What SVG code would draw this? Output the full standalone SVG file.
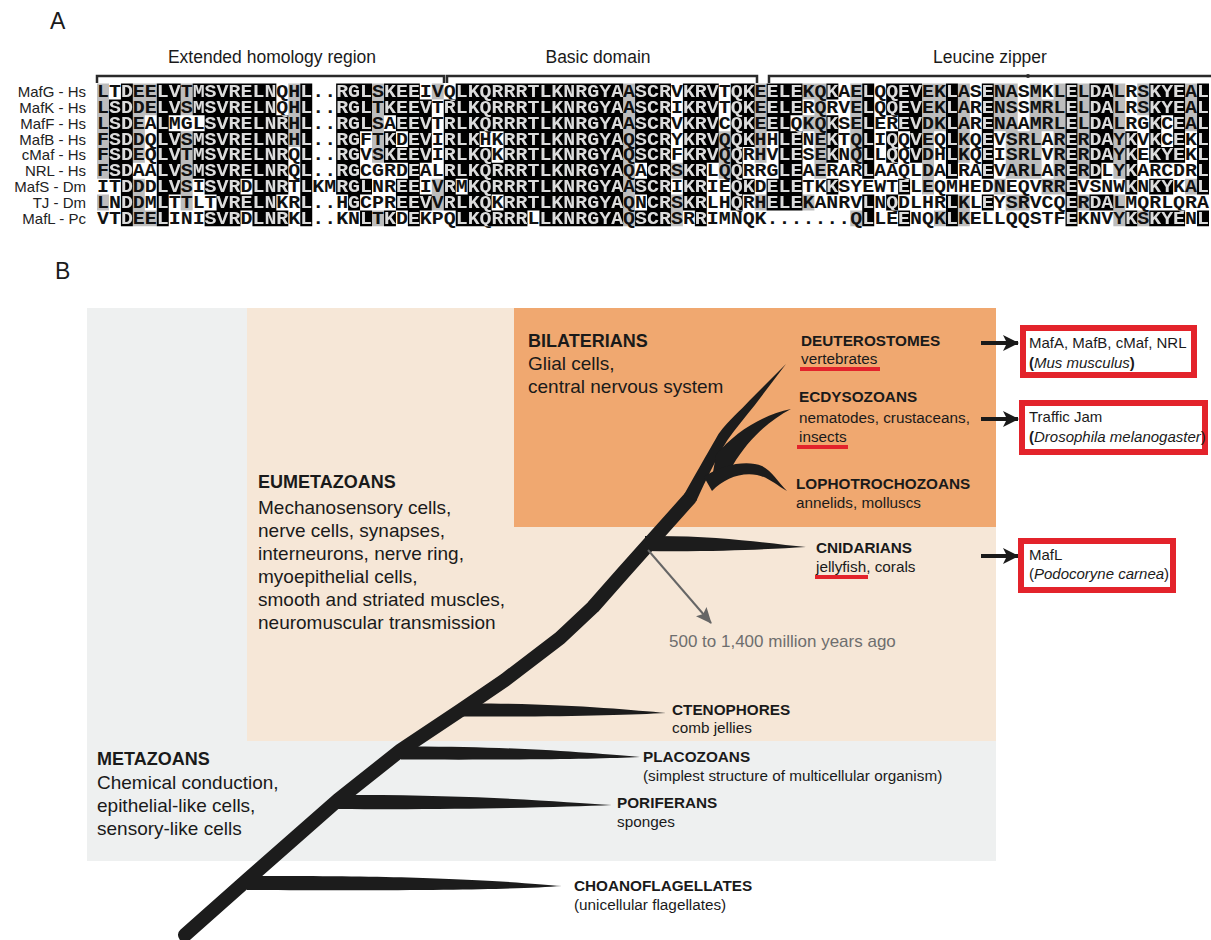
<svg xmlns="http://www.w3.org/2000/svg" width="1211" height="940" viewBox="0 0 1211 940">
<style>
text{font-family:"Liberation Sans",Arial,sans-serif;fill:#1a1a1a}
.s{font-family:"Liberation Mono","Courier New",monospace;font-size:18px;font-weight:bold;fill:inherit}
.rl{font-size:15px;text-anchor:end;fill:#222}
.hdr{font-size:17.5px;text-anchor:middle}
.pl{font-size:23px}
.big{font-size:18px;font-weight:bold}
.desc{font-size:19px}
.clade{font-size:15.3px;font-weight:bold}
.sub{font-size:15.3px}
.bx{font-size:15px}
.box{fill:#fff;stroke:#e3232b;stroke-width:6}
.ul{stroke:#e3232b;stroke-width:4}
.tree{fill:#1c1c1c}
.trunk{fill:none;stroke:#1c1c1c;stroke-width:14;stroke-linecap:round;stroke-linejoin:round}
.brk{fill:none;stroke:#2a2a2a;stroke-width:2.5}
.con{stroke:#1a1a1a;stroke-width:4;fill:none}
</style>
<defs>
<marker id="ba" viewBox="0 0 16 16" refX="15" refY="8" markerWidth="16" markerHeight="16" markerUnits="userSpaceOnUse" orient="auto"><path d="M0,0 L16,8 L0,16 L4,8 Z" fill="#1a1a1a"/></marker>
<marker id="ga" viewBox="0 0 16 14" refX="15" refY="7" markerWidth="16" markerHeight="14" markerUnits="userSpaceOnUse" orient="auto"><path d="M0,0 L16,7 L0,14 L3,7 Z" fill="#666"/></marker>
<path id="blk" transform="translate(97,83.6) scale(11.957,15.85)" d="M2 0h1v1h-1z M5 0h2v1h-2z M8 0h7v1h-7z M17 0h1v1h-1z M20 0h3v1h-3z M24 0h3v1h-3z M30 0h14v1h-14z M45 0h3v1h-3z M49 0h3v1h-3z M53 0h2v1h-2z M56 0h3v1h-3z M61 0h1v1h-1z M64 0h1v1h-1z M66 0h3v1h-3z M71 0h1v1h-1z M74 0h1v1h-1z M81 0h1v1h-1z M83 0h2v1h-2z M88 0h3v1h-3z M92 0h1v1h-1z
M1 1h2v1h-2z M5 1h2v1h-2z M8 1h7v1h-7z M17 1h1v1h-1z M20 1h3v1h-3z M24 1h4v1h-4z M29 1h15v1h-15z M45 1h3v1h-3z M49 1h3v1h-3z M53 1h2v1h-2z M56 1h3v1h-3z M64 1h1v1h-1z M66 1h3v1h-3z M71 1h1v1h-1z M74 1h1v1h-1z M81 1h1v1h-1z M83 1h2v1h-2z M88 1h3v1h-3z M92 1h1v1h-1z
M1 2h2v1h-2z M5 2h1v1h-1z M9 2h7v1h-7z M17 2h1v1h-1z M20 2h3v1h-3z M25 2h3v1h-3z M29 2h15v1h-15z M45 2h3v1h-3z M49 2h3v1h-3z M53 2h2v1h-2z M56 2h2v1h-2z M61 2h1v1h-1z M64 2h1v1h-1z M67 2h2v1h-2z M71 2h1v1h-1z M74 2h1v1h-1z M81 2h1v1h-1z M83 2h2v1h-2z M88 2h1v1h-1z M90 2h1v1h-1z M92 2h1v1h-1z
M1 3h2v1h-2z M5 3h2v1h-2z M8 3h8v1h-8z M17 3h1v1h-1z M20 3h2v1h-2z M24 3h1v1h-1z M26 3h2v1h-2z M29 3h3v1h-3z M34 3h10v1h-10z M45 3h3v1h-3z M49 3h3v1h-3z M53 3h2v1h-2z M57 3h2v1h-2z M61 3h1v1h-1z M64 3h1v1h-1z M66 3h1v1h-1z M68 3h1v1h-1z M71 3h1v1h-1z M74 3h1v1h-1z M81 3h1v1h-1z M83 3h2v1h-2z M86 3h1v1h-1z M88 3h1v1h-1z M90 3h1v1h-1z M92 3h1v1h-1z
M1 4h2v1h-2z M5 4h2v1h-2z M8 4h8v1h-8z M17 4h1v1h-1z M20 4h2v1h-2z M24 4h4v1h-4z M29 4h4v1h-4z M34 4h10v1h-10z M45 4h3v1h-3z M49 4h3v1h-3z M53 4h1v1h-1z M57 4h2v1h-2z M61 4h1v1h-1z M64 4h1v1h-1z M66 4h1v1h-1z M68 4h1v1h-1z M71 4h1v1h-1z M74 4h1v1h-1z M81 4h1v1h-1z M83 4h2v1h-2z M86 4h1v1h-1z M88 4h3v1h-3z M92 4h1v1h-1z
M1 5h2v1h-2z M5 5h2v1h-2z M8 5h8v1h-8z M17 5h1v1h-1z M20 5h2v1h-2z M26 5h1v1h-1z M29 5h15v1h-15z M46 5h2v1h-2z M49 5h2v1h-2z M53 5h1v1h-1z M57 5h2v1h-2z M64 5h1v1h-1z M71 5h1v1h-1z M74 5h1v1h-1z M81 5h1v1h-1z M83 5h1v1h-1z M86 5h1v1h-1z M92 5h1v1h-1z
M2 6h1v1h-1z M5 6h2v1h-2z M9 6h3v1h-3z M13 6h3v1h-3z M17 6h1v1h-1z M20 6h3v1h-3z M25 6h2v1h-2z M29 6h1v1h-1z M31 6h13v1h-13z M45 6h3v1h-3z M49 6h2v1h-2z M53 6h2v1h-2z M56 6h3v1h-3z M61 6h1v1h-1z M67 6h1v1h-1z M81 6h1v1h-1z M86 6h1v1h-1z M88 6h2v1h-2z M92 6h1v1h-1z
M2 7h1v1h-1z M5 7h1v1h-1z M10 7h5v1h-5z M17 7h1v1h-1z M21 7h1v1h-1z M25 7h3v1h-3z M29 7h4v1h-4z M34 7h10v1h-10z M46 7h2v1h-2z M49 7h2v1h-2z M53 7h1v1h-1z M56 7h3v1h-3z M64 7h1v1h-1z M66 7h1v1h-1z M71 7h1v1h-1z M74 7h1v1h-1z M81 7h1v1h-1z M83 7h2v1h-2z
M2 8h1v1h-1z M5 8h1v1h-1z M9 8h3v1h-3z M13 8h3v1h-3z M17 8h1v1h-1z M22 8h1v1h-1z M24 8h1v1h-1z M26 8h1v1h-1z M30 8h6v1h-6z M37 8h7v1h-7z M45 8h3v1h-3z M50 8h1v1h-1z M64 8h1v1h-1z M67 8h1v1h-1z M71 8h1v1h-1z M81 8h1v1h-1z M86 8h1v1h-1z M88 8h3v1h-3z M92 8h1v1h-1z"/>
<path id="gry" transform="translate(97,83.6) scale(11.957,15.85)" d="M0 0h1v1h-1z M3 0h2v1h-2z M7 0h1v1h-1z M16 0h1v1h-1z M23 0h1v1h-1z M28 0h1v1h-1z M44 0h1v1h-1z M55 0h1v1h-1z M59 0h2v1h-2z M63 0h1v1h-1z M69 0h2v1h-2z M72 0h1v1h-1z M75 0h2v1h-2z M78 0h1v1h-1z M80 0h1v1h-1z M82 0h1v1h-1z M85 0h1v1h-1z M87 0h1v1h-1z M91 0h1v1h-1z
M0 1h1v1h-1z M3 1h2v1h-2z M7 1h1v1h-1z M16 1h1v1h-1z M23 1h1v1h-1z M44 1h1v1h-1z M55 1h1v1h-1z M60 1h1v1h-1z M63 1h1v1h-1z M69 1h2v1h-2z M72 1h1v1h-1z M75 1h2v1h-2z M78 1h3v1h-3z M82 1h1v1h-1z M85 1h1v1h-1z M87 1h1v1h-1z M91 1h1v1h-1z
M0 2h1v1h-1z M3 2h1v1h-1z M16 2h1v1h-1z M23 2h1v1h-1z M44 2h1v1h-1z M55 2h1v1h-1z M59 2h2v1h-2z M63 2h1v1h-1z M69 2h2v1h-2z M72 2h1v1h-1z M75 2h2v1h-2z M78 2h3v1h-3z M82 2h1v1h-1z M85 2h1v1h-1z M91 2h1v1h-1z
M0 3h1v1h-1z M3 3h1v1h-1z M7 3h1v1h-1z M16 3h1v1h-1z M23 3h1v1h-1z M44 3h1v1h-1z M52 3h1v1h-1z M55 3h1v1h-1z M60 3h1v1h-1z M63 3h1v1h-1z M69 3h1v1h-1z M72 3h1v1h-1z M76 3h3v1h-3z M80 3h1v1h-1z M82 3h1v1h-1z M85 3h1v1h-1z
M0 4h1v1h-1z M3 4h1v1h-1z M7 4h1v1h-1z M23 4h1v1h-1z M44 4h1v1h-1z M52 4h1v1h-1z M55 4h1v1h-1z M60 4h1v1h-1z M63 4h1v1h-1z M69 4h1v1h-1z M72 4h1v1h-1z M76 4h3v1h-3z M80 4h1v1h-1z M82 4h1v1h-1z M85 4h1v1h-1z
M0 5h1v1h-1z M7 5h1v1h-1z M44 5h1v1h-1z M48 5h1v1h-1z M52 5h1v1h-1z M60 5h1v1h-1z M69 5h1v1h-1z M76 5h3v1h-3z M80 5h1v1h-1z M82 5h1v1h-1z M85 5h1v1h-1z
M3 6h1v1h-1z M7 6h1v1h-1z M28 6h1v1h-1z M44 6h1v1h-1z M69 6h1v1h-1z M75 6h1v1h-1z M79 6h2v1h-2z M91 6h1v1h-1z
M0 7h1v1h-1z M3 7h1v1h-1z M7 7h1v1h-1z M28 7h1v1h-1z M44 7h1v1h-1z M48 7h1v1h-1z M55 7h1v1h-1z M59 7h1v1h-1z M72 7h1v1h-1z M76 7h2v1h-2z M82 7h1v1h-1z M85 7h1v1h-1z
M3 8h2v1h-2z M23 8h1v1h-1z M44 8h1v1h-1z M48 8h1v1h-1z M63 8h1v1h-1z M70 8h1v1h-1z M72 8h1v1h-1z M85 8h1v1h-1z M87 8h1v1h-1z"/>
<g id="seqtxt">
<text class="s" x="97" y="97" textLength="1112" lengthAdjust="spacingAndGlyphs">LTDEELVTMSVRELNQHL..RGLSKEEIVQLKQRRRTLKNRGYAASCRVKRVTQKEELEKQKAELQQEVEKLASENASMKLELDALRSKYEAL</text>
<text class="s" x="97" y="112.85" textLength="1112" lengthAdjust="spacingAndGlyphs">LSDDELVSMSVRELNQHL..RGLTKEEVTRLKQRRRTLKNRGYAASCRIKRVTQKEELERQRVELQQEVEKLARENSSMRLELDALRSKYEAL</text>
<text class="s" x="97" y="128.7" textLength="1112" lengthAdjust="spacingAndGlyphs">LSDEALMGLSVRELNRHL..RGLSAEEVTRLKQRRRTLKNRGYAASCRVKRVCQKEELQKQKSELEREVDKLARENAAMRLELDALRGKCEAL</text>
<text class="s" x="97" y="144.55" textLength="1112" lengthAdjust="spacingAndGlyphs">FSDDQLVSMSVRELNRHL..RGFTKDEVIRLKHKRRTLKNRGYAQSCRYKRVQQKHHLENEKTQLIQQVEQLKQEVSRLARERDAYKVKCEKL</text>
<text class="s" x="97" y="160.4" textLength="1112" lengthAdjust="spacingAndGlyphs">FSDEQLVTMSVRELNRQL..RGVSKEEVIRLKQKRRTLKNRGYAQSCRFKRVQQRHVLESEKNQLLQQVDHLKQEISRLVRERDAYKEKYEKL</text>
<text class="s" x="97" y="176.25" textLength="1112" lengthAdjust="spacingAndGlyphs">FSDAALVSMSVRELNRQL..RGCGRDEALRLKQRRRTLKNRGYAQACRSKRLQQRRGLEAERARLAAQLDALRAEVARLARERDLYKARCDRL</text>
<text class="s" x="97" y="192.1" textLength="1112" lengthAdjust="spacingAndGlyphs">ITDDDLVSISVRDLNRTLKMRGLNREEIVRMKQRRRTLKNRGYAASCRIKRIEQKDELETKKSYEWTELEQMHEDNEQVRREVSNWKNKYKAL</text>
<text class="s" x="97" y="207.95" textLength="1112" lengthAdjust="spacingAndGlyphs">LNDDMLTTLTVRELNKRL..HGCPREEVVRLKQKRRTLKNRGYAQNCRSKRLHQRHELEKANRVLNQDLHRLKLEYSRVCQERDALMQRLQRA</text>
<text class="s" x="97" y="223.8" textLength="1112" lengthAdjust="spacingAndGlyphs">VTDEELINISVRDLNRKL..KNLTKDEKPQLKQRRRLLKNRGYAQSCRSRRIMNQK.......QLLEENQKLKELLQQSTFEKNVYKSKYENL</text>
</g>
<mask id="mblk" maskUnits="userSpaceOnUse" x="0" y="0" width="1211" height="940"><use href="#blk" fill="#fff"/></mask>
</defs>
<rect width="1211" height="940" fill="#fff"/>

<g id="panelA">
<text class="pl" x="50" y="29">A</text>
<g id="headers">
<text class="hdr" x="272" y="63">Extended homology region</text>
<text class="hdr" x="598" y="63">Basic domain</text>
<text class="hdr" x="990" y="63">Leucine zipper</text>
<path class="brk" d="M97,83 V76 H444 V83 M447,83 V76 H757 V83 M769,83 V76 H1211"/>
<circle cx="1028" cy="76" r="2" fill="#2a2a2a"/>
</g>
<g id="rowlabels">
<text class="rl" x="86" y="97">MafG - Hs</text>
<text class="rl" x="86" y="112.85">MafK - Hs</text>
<text class="rl" x="86" y="128.7">MafF - Hs</text>
<text class="rl" x="86" y="144.55">MafB - Hs</text>
<text class="rl" x="86" y="160.4">cMaf - Hs</text>
<text class="rl" x="86" y="176.25">NRL - Hs</text>
<text class="rl" x="86" y="192.1">MafS - Dm</text>
<text class="rl" x="86" y="207.95">TJ - Dm</text>
<text class="rl" x="86" y="223.8">MafL - Pc</text>
</g>
<g id="alignment">
<use href="#gry" fill="#bdbdbd"/>
<use href="#blk" fill="#000"/>
<use href="#seqtxt" fill="#111"/>
<use href="#seqtxt" fill="#dcdcdc" mask="url(#mblk)"/>
</g>
</g>

<g id="panelB">
<text class="pl" x="55" y="279">B</text>
<g id="backgrounds">
<rect x="87" y="308" width="909" height="553" fill="#eef0f0"/>
<rect x="247" y="308" width="749" height="433" fill="#f6e7d7"/>
<rect x="514" y="308" width="482" height="219" fill="#f0a870"/>
</g>

<g id="tree">
<polyline class="trunk" points="185,935 247,880 338,800 401,750 461,710 505,680 560,638 593,607 623,573 648,545 690,498"/>
<path class="tree" d="M683.9,494.7 C700,466 711,447 718.5,433.9 C730,419 740,411 749.3,400.8 L786,364 L754.7,405.2 C746,416 736,428 727.5,440.1 C717,457 706,480 696.2,501.3 Z"/>
<path class="tree" d="M716,455 C735,432 762,415 791,409 C768,421 748,440 733,465 L712,478 Z"/>
<path class="tree" d="M704,477 C722,464 748,460 762,466 C772,471 778,482 787,491 C776,485 768,477 757,475 C740,472 724,479 712,491 Z"/>
<path class="tree" d="M247,876 C450,875 520,883 562,886 C520,889 450,891 247,890 Z"/>
<path class="tree" d="M338,795 C470,794 560,802 612,805 C560,807 470,810 338,809 Z"/>
<path class="tree" d="M401,746.5 C520,746 600,754 640,757 C600,759 520,760 401,759.5 Z"/>
<path class="tree" d="M461,703.5 C560,703 630,710 666,713 C630,715 560,717 461,716.5 Z"/>
<path class="tree" d="M645,536 C720,535 770,544 806,547 C770,549 720,552 645,551 Z"/>
</g>

<g id="connectors">
<line x1="648" y1="550" x2="711" y2="623" stroke="#666" stroke-width="2" marker-end="url(#ga)"/>
<line class="con" x1="981" y1="343" x2="1018" y2="343" marker-end="url(#ba)"/>
<line class="con" x1="981" y1="419" x2="1018" y2="419" marker-end="url(#ba)"/>
<line class="con" x1="981" y1="556" x2="1018" y2="556" marker-end="url(#ba)"/>
</g>

<g id="bilaterians">
<text class="big" x="528" y="347">BILATERIANS</text>
<text class="desc" x="528" y="370">Glial cells,</text>
<text class="desc" x="528" y="393">central nervous system</text>
</g>
<g id="eumetazoans">
<text class="big" x="258" y="488">EUMETAZOANS</text>
<text class="desc" x="258" y="514">Mechanosensory cells,</text>
<text class="desc" x="258" y="537">nerve cells, synapses,</text>
<text class="desc" x="258" y="560">interneurons, nerve ring,</text>
<text class="desc" x="258" y="583">myoepithelial cells,</text>
<text class="desc" x="258" y="606">smooth and striated muscles,</text>
<text class="desc" x="258" y="629">neuromuscular transmission</text>
</g>
<g id="metazoans">
<text class="big" x="97" y="765">METAZOANS</text>
<text class="desc" x="97" y="789">Chemical conduction,</text>
<text class="desc" x="97" y="812">epithelial-like cells,</text>
<text class="desc" x="97" y="835">sensory-like cells</text>
</g>
<g id="deuterostomes">
<text class="clade" x="801" y="346">DEUTEROSTOMES</text>
<text class="sub" x="801" y="364">vertebrates</text>
<line class="ul" x1="800" y1="369" x2="880" y2="369"/>
</g>
<g id="ecdysozoans">
<text class="clade" x="799" y="402">ECDYSOZOANS</text>
<text class="sub" x="799" y="423">nematodes, crustaceans,</text>
<text class="sub" x="799" y="442">insects</text>
<line class="ul" x1="797" y1="447" x2="848" y2="447"/>
</g>
<g id="lophotrochozoans">
<text class="clade" x="796" y="489">LOPHOTROCHOZOANS</text>
<text class="sub" x="796" y="508">annelids, molluscs</text>
</g>
<g id="cnidarians">
<text class="clade" x="816" y="553">CNIDARIANS</text>
<text class="sub" x="816" y="572">jellyfish, corals</text>
<line class="ul" x1="815" y1="577" x2="868" y2="577"/>
</g>
<g id="timing">
<text x="669" y="647" style="font-size:17px;fill:#6e6e6e">500 to 1,400 million years ago</text>
</g>
<g id="ctenophores">
<text class="clade" x="672" y="715">CTENOPHORES</text>
<text class="sub" x="672" y="733">comb jellies</text>
</g>
<g id="placozoans">
<text class="clade" x="643" y="762">PLACOZOANS</text>
<text class="sub" x="643" y="781">(simplest structure of multicellular organism)</text>
</g>
<g id="poriferans">
<text class="clade" x="617" y="808">PORIFERANS</text>
<text class="sub" x="617" y="827">sponges</text>
</g>
<g id="choanoflagellates">
<text class="clade" x="574" y="891">CHOANOFLAGELLATES</text>
<text class="sub" x="574" y="910">(unicellular flagellates)</text>
</g>

<g id="box-mus">
<rect class="box" x="1023" y="328" width="171" height="47"/>
<text class="bx" x="1029" y="348">MafA, MafB, cMaf, NRL</text>
<text class="bx" x="1029" y="368"><tspan font-weight="bold">(</tspan><tspan font-style="italic">Mus musculus</tspan><tspan font-weight="bold">)</tspan></text>
</g>
<g id="box-dros">
<rect class="box" x="1022" y="403" width="183" height="49"/>
<text class="bx" x="1029" y="422">Traffic Jam</text>
<text class="bx" x="1029" y="442"><tspan font-weight="bold">(</tspan><tspan font-style="italic">Drosophila melanogaster</tspan>)</text>
</g>
<g id="box-podo">
<rect class="box" x="1021" y="541" width="152" height="49"/>
<text class="bx" x="1029" y="560">MafL</text>
<text class="bx" x="1029" y="579">(<tspan font-style="italic">Podocoryne carnea</tspan>)</text>
</g>
</g>
</svg>
